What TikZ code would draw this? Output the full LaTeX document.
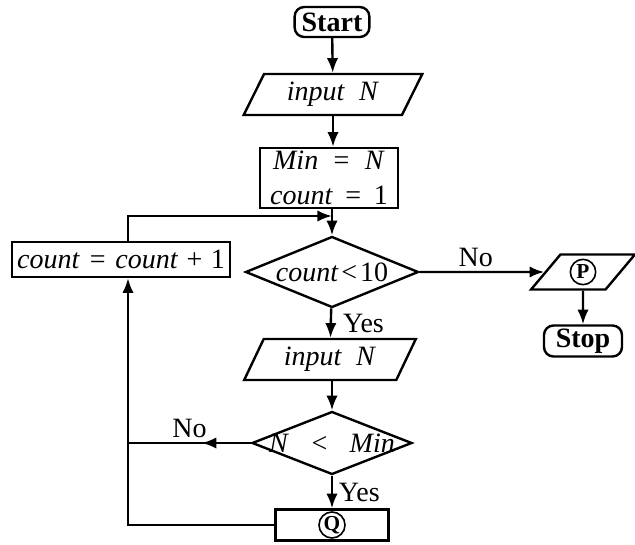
\documentclass[tikz,border=0pt]{standalone}
\usepackage{fontspec}
\setmainfont{Liberation Serif}
\usetikzlibrary{positioning,shapes.geometric,arrows.meta,decorations.markings}
\newcommand{\chartsize}{\fontsize{21}{26}\selectfont}
\tikzset{
  startstop/.style={rectangle, rounded corners=2.5mm, draw, font=\chartsize\bfseries, inner sep=0pt},
  io/.style={trapezium, trapezium left angle=61, trapezium right angle=119, trapezium stretches=true, draw, inner sep=0pt},
  proc/.style={rectangle, draw, inner sep=0pt},
  decision/.style={diamond, draw, inner sep=0pt},
  circ/.style={circle, draw, line width=1.2pt, inner sep=0.5pt, minimum size=19pt, font=\fontsize{16}{16}\selectfont\bfseries},
  arr/.style={-{Latex[length=11pt,width=8.5pt]}},
  midarr/.style={postaction={decorate}, decoration={markings, mark=at position 0.4 with {\arrow{Latex[length=11pt,width=8.5pt]}}}}
}
\begin{document}
\begin{tikzpicture}[x=0.75pt, y=-0.75pt, line width=1.8pt, font=\chartsize]
  \useasboundingbox (0,0) rectangle (635,545);

  % main column
  \node[startstop, minimum width=56pt, minimum height=22.5pt] (start) at (332,22) {Start};
  \node[io, minimum width=135pt, minimum height=30.75pt] (in1) at (333,94.5) {\textit{input}\hspace{0.5em}\textit{N}};
  \node[proc, minimum width=103.5pt, minimum height=45pt, align=center] (init) at (329,178)
    {\textit{Min}\hspace{0.55em}=\hspace{0.55em}\textit{N}\\\textit{count}\hspace{0.45em}=\hspace{0.45em}1};
  \node[decision, minimum width=129.75pt, minimum height=53.25pt] (d1) at (332,272) {\makebox[0pt]{\textit{count}\hspace{0.1em}<\hspace{0.1em}10}};
  \node[io, minimum width=129.75pt, minimum height=30.75pt] (in2) at (330,359.5) {\textit{input}\hspace{0.5em}\textit{N}};
  \node[decision, minimum width=120pt, minimum height=47.25pt] (d2) at (332,443) {\makebox[0pt]{\textit{N}\hspace{0.8em}<\hspace{0.8em}\textit{Min}}};
  \node[proc, minimum width=84.75pt, minimum height=23.25pt, label={[circ]center:Q}] (q) at (332,525) {\phantom{Q}};

  % side boxes
  \node[proc, minimum width=163.5pt, minimum height=26.25pt] (inc) at (121,259.5)
    {\textit{count}\hspace{0.35em}=\hspace{0.35em}\textit{count}\hspace{0.3em}+\hspace{0.3em}1};
  \node[io, minimum width=78pt, minimum height=26.25pt, label={[circ]center:P}] (out) at (583,272) {\phantom{P}};
  \node[startstop, minimum width=58.5pt, minimum height=23.25pt] (stop) at (583,341) {Stop};

  \coordinate (loop) at (128,0);
  \coordinate (merge) at (332,216);

  \draw[arr] (start) -- (in1);
  \draw[arr] (in1 |- in1.south) -- (in1 |- init.north);
  \draw[arr] (init.south -| d1) -- (d1);
  \draw[arr] (d1) -- node[above, pos=0.45]{No} (out);
  \draw[arr] (out) -- (stop);
  \draw[arr] (d1) -- node[right=5pt]{Yes} (in2);
  \draw[arr] (in2.south -| d2) -- (d2);
  \draw[arr] (d2) -- node[right=1pt]{Yes} (q);

  % loop back
  \draw[midarr] (d2) -- node[above]{No} (d2 -| loop);
  \draw[arr] (q) -| (inc.south -| loop);
  \draw[arr] (inc.north -| loop) |- (merge);
\end{tikzpicture}
\end{document}
